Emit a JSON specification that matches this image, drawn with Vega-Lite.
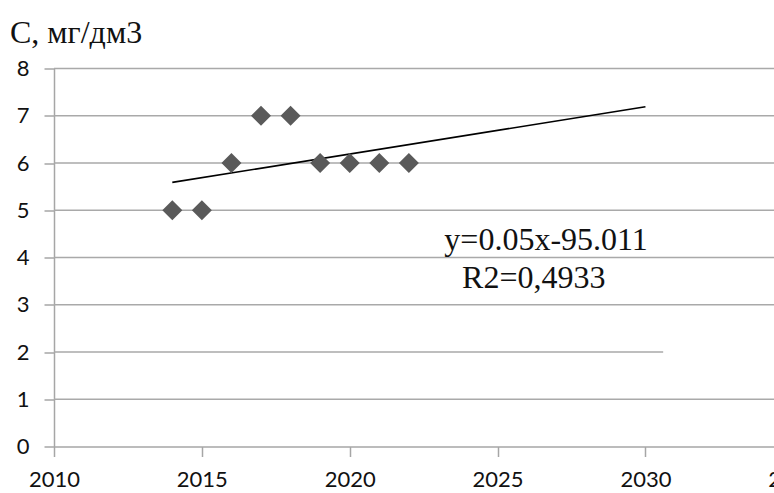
{
  "$schema": "https://vega.github.io/schema/vega-lite/v6.json",
  "autosize": {"type": "none"},
  "padding": {"left": 54, "top": 68.5, "right": 0, "bottom": 46.5},
  "width": 720,
  "height": 378,
  "background": "white",
  "config": {
    "view": {"stroke": null},
    "axis": {
      "domainColor": "#a6a6a6",
      "domainWidth": 1.5,
      "tickColor": "#a6a6a6",
      "tickWidth": 1.5,
      "tickSize": 10,
      "labelFont": "Lato",
      "labelFontSize": 22,
      "labelColor": "#111111",
      "grid": false,
      "title": null,
      "labelFlush": false,
      "labelOverlap": false
    }
  },
  "title": {
    "text": "С, мг/дм3",
    "anchor": "start",
    "frame": "group",
    "dx": -44,
    "offset": -17,
    "baseline": "alphabetic",
    "font": "Liberation Serif",
    "fontSize": 32,
    "fontWeight": "normal",
    "color": "#111111"
  },
  "layer": [
    {
      "data": {"values": [
        {"y": 1, "xstart": 2010, "xend": 2035},
        {"y": 2, "xstart": 2010, "xend": 2030.6},
        {"y": 3, "xstart": 2010, "xend": 2035},
        {"y": 4, "xstart": 2010, "xend": 2035},
        {"y": 5, "xstart": 2010, "xend": 2035},
        {"y": 6, "xstart": 2010, "xend": 2035},
        {"y": 7, "xstart": 2010, "xend": 2035},
        {"y": 8, "xstart": 2010, "xend": 2035}
      ]},
      "mark": {"type": "rule", "color": "#a9a9a9", "strokeWidth": 1.5},
      "encoding": {
        "x": {
          "field": "xstart",
          "type": "quantitative",
          "scale": {"domain": [2010, 2035], "range": [0, 739.3], "nice": false, "zero": false},
          "axis": {"values": [2010, 2015, 2020, 2025, 2030, 2035], "format": "d", "labelPadding": 13}
        },
        "x2": {"field": "xend"},
        "y": {
          "field": "y",
          "type": "quantitative",
          "scale": {"domain": [0, 8], "nice": false, "zero": true},
          "axis": {"values": [0, 1, 2, 3, 4, 5, 6, 7, 8], "labelPadding": 15}
        }
      }
    },
    {
      "data": {"values": [
        {"year": 2014, "c": 5.59},
        {"year": 2030, "c": 7.19}
      ]},
      "mark": {"type": "line", "color": "#000000", "strokeWidth": 1.6},
      "encoding": {
        "x": {"field": "year", "type": "quantitative"},
        "y": {"field": "c", "type": "quantitative"}
      }
    },
    {
      "data": {"values": [
        {"year": 2014, "c": 5},
        {"year": 2015, "c": 5},
        {"year": 2016, "c": 6},
        {"year": 2017, "c": 7},
        {"year": 2018, "c": 7},
        {"year": 2019, "c": 6},
        {"year": 2020, "c": 6},
        {"year": 2021, "c": 6},
        {"year": 2022, "c": 6}
      ]},
      "mark": {"type": "point", "shape": "diamond", "filled": true, "size": 400, "color": "#5a5a5a", "opacity": 1},
      "encoding": {
        "x": {"field": "year", "type": "quantitative"},
        "y": {"field": "c", "type": "quantitative"}
      }
    },
    {
      "data": {"values": [
        {"x": 2023.2, "y": 4.16, "label": "y=0.05x-95.011"},
        {"x": 2023.8, "y": 3.35, "label": "R2=0,4933"}
      ]},
      "mark": {"type": "text", "align": "left", "baseline": "alphabetic", "font": "Liberation Serif", "fontSize": 32, "color": "#111111"},
      "encoding": {
        "x": {"field": "x", "type": "quantitative"},
        "y": {"field": "y", "type": "quantitative"},
        "text": {"field": "label"}
      }
    }
  ]
}
